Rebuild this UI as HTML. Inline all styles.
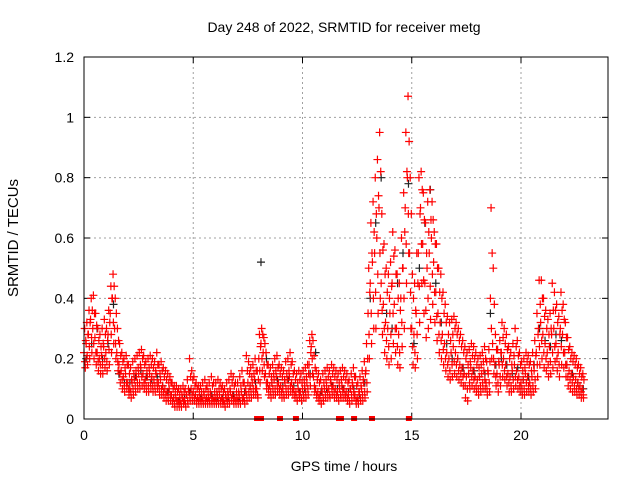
<!DOCTYPE html>
<html><head><meta charset="utf-8"><style>
body{margin:0;background:#fff}
svg{display:block;font-family:"Liberation Sans",sans-serif}
</style></head><body>
<svg id="chart" width="640" height="480" viewBox="0 0 640 480">
<text x="344" y="32" font-size="14" text-anchor="middle">Day 248 of 2022, SRMTID for receiver metg</text>
<text x="344" y="471" font-size="14" text-anchor="middle">GPS time / hours</text>
<text x="0" y="0" font-size="15" text-anchor="middle" transform="translate(18,238) rotate(-90)">SRMTID / TECUs</text>
<g id="grid"></g>
<g id="ticks"></g>
<g id="marks"></g>
<rect x="84" y="57" width="524" height="362" fill="none" stroke="#000" stroke-width="1"/>
</svg>
<script>
const xTicks=[0,5,10,15,20];
const yTicks=[0,0.2,0.4,0.6,0.8,1,1.2];
const yTickLabels=["0","0.2","0.4","0.6","0.8","1","1.2"];
const redMid=[.22,.25,.28,.33,.30,.27,.22,.20,.21,.24,
.22,.28,.35,.40,.30,.22,.18,.16,.14,.15,
.12,.10,.12,.13,.14,.15,.17,.15,.13,.14,
.15,.14,.13,.15,.12,.13,.11,.10,.09,.10,
.08,.07,.07,.06,.06,.07,.06,.08,.09,.10,
.09,.08,.07,.07,.07,.08,.07,.07,.08,.07,
.07,.08,.08,.07,.06,.07,.08,.09,.08,.07,
.07,.08,.09,.07,.10,.12,.11,.12,.13,.10,
.20,.25,.22,.15,.12,.11,.12,.13,.14,.12,
.11,.10,.12,.13,.14,.12,.10,.09,.10,.09,
.10,.11,.12,.18,.24,.14,.10,.09,.08,.09,
.10,.11,.10,.12,.11,.10,.09,.10,.11,.10,
.09,.08,.10,.11,.08,.07,.09,.10,.12,.16,
.35,.45,.52,.55,.60,.70,.45,.38,.32,.30,
.35,.45,.38,.30,.28,.40,.50,.70,.80,.55,
.30,.28,.35,.55,.70,.58,.45,.50,.55,.60,
.52,.42,.35,.32,.28,.25,.22,.20,.22,.24,
.22,.20,.18,.17,.15,.14,.15,.17,.16,.14,
.13,.14,.15,.16,.12,.15,.40,.25,.18,.15,
.18,.22,.20,.18,.15,.14,.16,.18,.16,.14,
.12,.13,.15,.14,.12,.14,.16,.22,.30,.32,
.28,.25,.22,.24,.28,.30,.25,.22,.30,.28,
.22,.18,.16,.15,.14,.13,.12,.11,.10];
const redHigh=[.30,.32,.36,.40,.41,.35,.30,.28,.30,.33,
.30,.36,.44,.48,.40,.30,.25,.22,.20,.21,
.18,.17,.19,.20,.21,.22,.23,.21,.19,.20,
.21,.20,.19,.22,.18,.19,.17,.16,.15,.14,
.12,.11,.11,.10,.10,.11,.10,.13,.20,.16,
.14,.12,.11,.11,.12,.13,.11,.12,.14,.12,
.12,.13,.12,.11,.10,.12,.13,.15,.14,.12,
.12,.14,.16,.12,.21,.19,.17,.18,.20,.16,
.28,.30,.27,.22,.18,.17,.18,.20,.21,.18,
.17,.16,.19,.20,.22,.19,.16,.15,.16,.15,
.16,.17,.18,.26,.28,.21,.16,.15,.13,.15,
.16,.17,.16,.18,.17,.16,.15,.16,.17,.16,
.15,.13,.15,.17,.14,.12,.14,.16,.19,.25,
.50,.65,.72,.80,.86,.95,.68,.58,.50,.48,
.52,.62,.56,.48,.45,.60,.75,.95,1.07,.80,
.48,.45,.55,.80,.82,.75,.65,.72,.76,.72,
.62,.58,.50,.48,.42,.38,.34,.32,.33,.34,
.32,.30,.28,.26,.24,.22,.23,.25,.24,.22,
.20,.21,.22,.24,.19,.23,.70,.50,.28,.23,
.26,.32,.30,.28,.24,.22,.25,.30,.26,.22,
.19,.20,.22,.21,.19,.22,.26,.35,.46,.46,
.40,.36,.33,.35,.45,.42,.38,.34,.42,.38,
.32,.27,.24,.22,.21,.20,.18,.17,.15];
const redLow=[.17,.18,.20,.22,.20,.18,.16,.15,.15,.17,
.16,.18,.22,.25,.20,.16,.12,.10,.09,.10,
.08,.07,.08,.09,.10,.10,.11,.10,.09,.09,
.10,.09,.09,.10,.08,.08,.07,.06,.06,.06,
.05,.04,.04,.04,.04,.05,.04,.05,.06,.06,
.06,.05,.05,.05,.05,.05,.05,.05,.05,.05,
.05,.05,.05,.05,.04,.05,.05,.06,.05,.05,
.05,.05,.06,.05,.06,.07,.07,.08,.08,.07,
.12,.16,.14,.10,.08,.07,.08,.08,.09,.08,
.07,.07,.08,.08,.09,.08,.07,.06,.07,.06,
.07,.07,.08,.11,.15,.09,.07,.06,.05,.06,
.07,.07,.07,.08,.07,.07,.06,.07,.07,.07,
.06,.05,.06,.07,.05,.05,.06,.06,.07,.09,
.20,.25,.30,.30,.35,.40,.28,.22,.20,.18,
.20,.25,.22,.18,.17,.24,.30,.45,.55,.30,
.18,.17,.20,.32,.45,.35,.27,.30,.33,.38,
.32,.26,.22,.20,.18,.16,.14,.13,.14,.15,
.14,.13,.12,.11,.07,.06,.10,.11,.10,.09,
.08,.09,.10,.10,.08,.09,.20,.15,.11,.09,
.11,.14,.13,.11,.09,.09,.10,.11,.10,.09,
.08,.08,.09,.09,.08,.09,.10,.14,.18,.20,
.17,.16,.14,.15,.17,.19,.16,.14,.18,.17,
.14,.11,.10,.09,.09,.08,.08,.07,.07];
const redQ1=[.19,.21,.24,.27,.25,.22,.19,.18,.18,.20,
.19,.23,.28,.32,.25,.19,.15,.13,.11,.12,
.10,.09,.10,.11,.12,.12,.14,.12,.11,.11,
.12,.11,.11,.12,.10,.10,.09,.08,.07,.08,
.06,.05,.06,.05,.05,.06,.05,.06,.07,.08,
.07,.06,.06,.06,.06,.06,.06,.06,.06,.06,
.06,.06,.06,.06,.05,.06,.06,.07,.06,.06,
.06,.06,.07,.06,.08,.09,.09,.10,.10,.08,
.16,.20,.18,.12,.10,.09,.10,.10,.11,.10,
.09,.08,.10,.10,.11,.10,.08,.07,.08,.07,
.08,.09,.10,.14,.20,.11,.08,.07,.06,.07,
.08,.09,.08,.10,.09,.08,.07,.08,.09,.08,
.07,.06,.08,.09,.06,.06,.07,.08,.09,.12,
.28,.35,.40,.42,.48,.55,.36,.30,.26,.24,
.28,.35,.30,.24,.22,.32,.40,.58,.68,.42,
.24,.22,.28,.44,.58,.46,.36,.40,.44,.48,
.42,.34,.28,.26,.23,.20,.18,.16,.18,.19,
.18,.16,.15,.14,.11,.10,.12,.14,.13,.11,
.10,.11,.12,.13,.10,.12,.30,.20,.14,.12,
.14,.18,.16,.14,.12,.11,.13,.14,.13,.11,
.10,.10,.12,.11,.10,.11,.13,.18,.24,.26,
.22,.20,.18,.19,.22,.24,.20,.18,.24,.22,
.18,.14,.13,.12,.11,.10,.10,.09,.08];
const redQ3=[.26,.28,.32,.36,.35,.31,.26,.24,.25,.28,
.26,.32,.40,.44,.35,.26,.21,.19,.17,.18,
.15,.13,.15,.16,.17,.18,.20,.18,.16,.17,
.18,.17,.16,.18,.15,.16,.14,.13,.12,.12,
.10,.09,.09,.08,.08,.09,.08,.10,.14,.13,
.11,.10,.09,.09,.09,.10,.09,.09,.11,.09,
.09,.10,.10,.09,.08,.09,.10,.12,.11,.09,
.09,.11,.12,.09,.16,.15,.14,.15,.16,.13,
.24,.28,.25,.18,.15,.14,.15,.16,.17,.15,
.14,.13,.15,.16,.18,.15,.13,.12,.13,.12,
.13,.14,.15,.22,.26,.17,.13,.12,.10,.12,
.13,.14,.13,.15,.14,.13,.12,.13,.14,.13,
.12,.10,.12,.14,.11,.09,.11,.13,.15,.20,
.42,.55,.62,.68,.74,.82,.56,.48,.42,.40,
.44,.54,.48,.40,.36,.50,.62,.82,.92,.68,
.40,.36,.45,.68,.76,.66,.55,.62,.66,.66,
.58,.50,.42,.40,.35,.32,.28,.26,.28,.30,
.28,.26,.24,.22,.20,.18,.19,.21,.20,.18,
.17,.18,.19,.20,.16,.19,.55,.38,.23,.19,
.22,.27,.25,.23,.20,.18,.21,.24,.21,.18,
.16,.17,.19,.18,.16,.18,.21,.28,.38,.40,
.34,.30,.28,.30,.36,.36,.32,.28,.36,.33,
.27,.23,.20,.19,.18,.17,.15,.14,.13];
const blackVals=[.2,.25,.3,.2,.25,.38,.15,.12,.12,.14,.16,.14,.13,.14,.11,.09,
.07,.06,.07,.09,.08,.07,.07,.08,.07,.07,.07,.08,.07,.09,.11,.12,
.52,.2,.12,.13,.11,.13,.11,.09,.1,.15,.22,.09,.1,.11,.1,.1,
.09,.1,.08,.12,.4,.65,.8,.35,.3,.45,.55,.78,.25,.5,.65,.76,
.45,.32,.25,.2,.2,.17,.15,.16,.14,.15,.35,.18,.2,.18,.15,.17,
.13,.14,.18,.3,.26,.24,.28,.26,.18,.15,.12,.1];
const zeroTimes=[7.92,8.1,8.97,9.7,11.67,11.76,12.36,13.18,14.87];

const X0=84,X1=608,Y0=419,Y1=57;
const xs=t=>X0+t*(521-84)/20;
const ys=v=>Y0-v*(Y0-Y1)/1.2;
const NS="http://www.w3.org/2000/svg";
const grid=document.getElementById('grid'),ticks=document.getElementById('ticks'),marks=document.getElementById('marks');
function mk(tag,attrs,parent){const e=document.createElementNS(NS,tag);for(const k in attrs)e.setAttribute(k,attrs[k]);parent.appendChild(e);return e;}
xTicks.forEach(t=>{const x=xs(t);
 if(t>0){const g=mk('line',{x1:x,x2:x,y1:Y0,y2:Y1,stroke:'#a0a0a0','stroke-dasharray':'2,3'},grid);
 
 }
 mk('line',{x1:x,x2:x,y1:Y0,y2:Y0-6,stroke:'#000'},ticks);
 mk('line',{x1:x,x2:x,y1:Y1,y2:Y1+6,stroke:'#000'},ticks);
 const l=mk('text',{x:x,y:Y0+21,'font-size':14,'text-anchor':'middle'},ticks);l.textContent=t;
 
 
});
yTicks.forEach((v,i)=>{const y=ys(v);
 if(v>0&&v<1.2){const g=mk('line',{x1:X0,x2:X1,y1:y,y2:y,stroke:'#a0a0a0','stroke-dasharray':'2,3'},grid);
 
 }
 mk('line',{x1:X0,x2:X0+6,y1:y,y2:y,stroke:'#000'},ticks);
 mk('line',{x1:X1,x2:X1-6,y1:y,y2:y,stroke:'#000'},ticks);
 const l=mk('text',{x:X0-10,y:y+5,'font-size':14,'text-anchor':'end'},ticks);l.textContent=yTickLabels[i];
 
 
});
function cross(t,v,color,name){const x=xs(t),y=ys(v);
 const p=mk('path',{d:`M${x-4} ${y}h8M${x} ${y-4}v8`,stroke:color,'stroke-width':1.2,fill:'none'},marks);
 
 
}
blackVals.forEach((v,i)=>cross(i*0.25+0.1,v,'#222','black-point'));
redMid.forEach((v,i)=>cross(i*0.1,v,'#ff0000','red-point'));
redHigh.forEach((v,i)=>cross(i*0.1+0.03,v,'#ff0000','red-point'));
redLow.forEach((v,i)=>cross(i*0.1+0.06,v,'#ff0000','red-point'));
redQ1.forEach((v,i)=>cross(i*0.1+0.045,v,'#ff0000','red-point'));
redQ3.forEach((v,i)=>cross(i*0.1+0.08,v,'#ff0000','red-point'));
zeroTimes.forEach(t=>{const r=mk('rect',{x:xs(t)-3,y:Y0-3,width:6,height:5,fill:'#ff0000'},marks);
 
 
});
</script>
</body></html>
